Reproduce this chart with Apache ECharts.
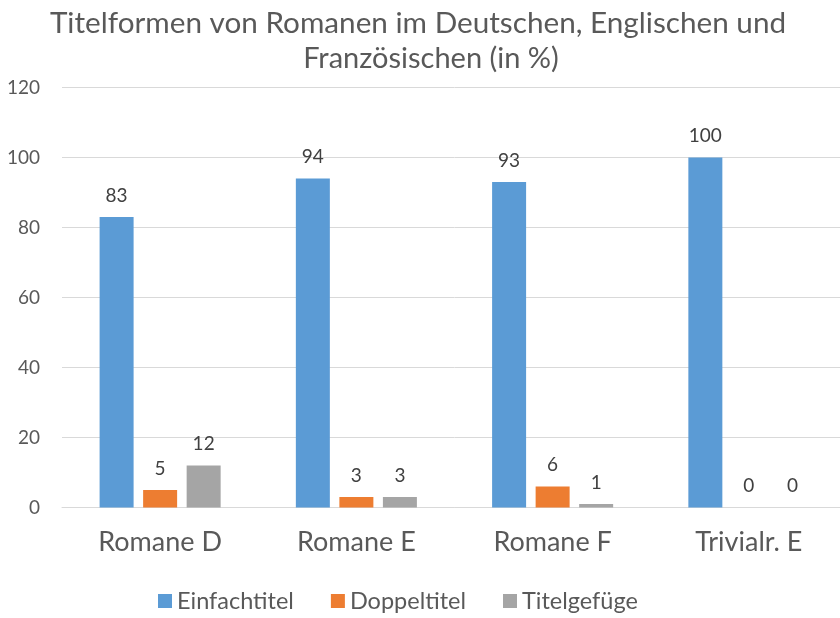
<!DOCTYPE html>
<html><head><meta charset="utf-8">
<script src="https://cdn.jsdelivr.net/npm/echarts@6/dist/echarts.min.js"></script>
<style>html,body{margin:0;padding:0;background:#fff;overflow:hidden;width:840px;height:618px}#c{width:848px;height:618px}</style>
</head><body><div id="c"></div>
<script>
const categories = ['Romane D', 'Romane E', 'Romane F', 'Trivialr. E'];
const einfachtitel = [83, 94, 93, 100];
const doppeltitel = [5, 3, 6, 0];
const titelgefuege = [12, 3, 1, 0];
const yTicks = {min: 0, max: 120, interval: 20};
const titleLines = ['Titelformen von Romanen im Deutschen, Englischen und', 'Französischen (in %)'];

const FONT = 'Lato';
const chart = echarts.init(document.getElementById('c'));
const lbl = {show: true, position: 'top', distance: 12, color: '#404040', fontSize: 19, fontFamily: FONT};
const tStyle = {fontFamily: FONT, fontSize: 29.7, fontWeight: 'normal', color: '#595959'};
chart.setOption({
  animation: false,
  title: [
    {text: titleLines[0], left: 413, textAlign: 'center', top: 3, textStyle: tStyle},
    {text: titleLines[1], left: 426, textAlign: 'center', top: 39, textStyle: Object.assign({}, tStyle, {fontSize: 29})}
  ],
  legend: {
    bottom: 0, left: 153, itemWidth: 14, itemHeight: 14, itemGap: 37,
    icon: 'rect',
    textStyle: {fontFamily: FONT, fontSize: 23.5, color: '#595959'},
    data: ['Einfachtitel', 'Doppeltitel', 'Titelgefüge']
  },
  grid: {left: 62, top: 87.5, width: 785, height: 420, containLabel: false},
  xAxis: {
    type: 'category', data: categories,
    axisLine: {lineStyle: {color: '#d9d9d9', width: 1}},
    axisTick: {show: false},
    axisLabel: {fontFamily: FONT, fontSize: 27, color: '#595959', margin: 21}
  },
  yAxis: {
    type: 'value', min: yTicks.min, max: yTicks.max, interval: yTicks.interval,
    axisLine: {show: false}, axisTick: {show: false},
    splitLine: {lineStyle: {color: '#d9d9d9', width: 1}},
    axisLabel: {fontFamily: FONT, fontSize: 19, color: '#595959', margin: 22}
  },
  series: [
    {name: 'Einfachtitel', type: 'bar', data: einfachtitel, barWidth: 34, barGap: '28%', itemStyle: {color: '#5B9BD5'}, label: lbl},
    {name: 'Doppeltitel', type: 'bar', data: doppeltitel, barWidth: 34, barGap: '28%', itemStyle: {color: '#ED7D31'}, label: lbl},
    {name: 'Titelgefüge', type: 'bar', data: titelgefuege, barWidth: 34, barGap: '28%', itemStyle: {color: '#A5A5A5'}, label: lbl}
  ]
});
</script></body></html>
